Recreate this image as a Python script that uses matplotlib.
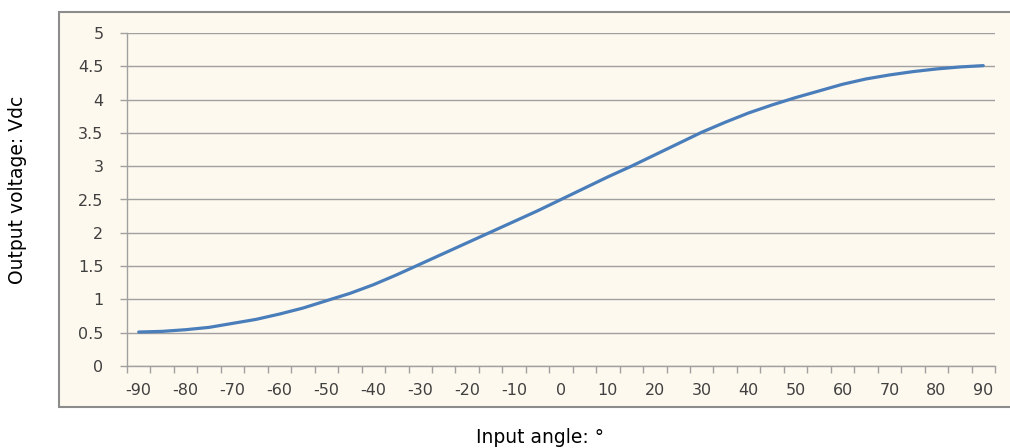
import numpy as np
import matplotlib
matplotlib.use("Agg")
import matplotlib.pyplot as plt
from matplotlib.patches import Rectangle

# input angle (degrees) and output voltage
angles = list(range(-90, 91, 5))
volts = [0.51, 0.52, 0.545, 0.58, 0.64, 0.70, 0.78, 0.87, 0.98, 1.09,
         1.22, 1.37, 1.53, 1.69, 1.85, 2.01, 2.17, 2.33, 2.50, 2.67,
         2.84, 3.00, 3.17, 3.34, 3.51, 3.66, 3.80, 3.92, 4.03, 4.13,
         4.23, 4.31, 4.37, 4.42, 4.46, 4.49, 4.51]
yticks = [0, 0.5, 1, 1.5, 2, 2.5, 3, 3.5, 4, 4.5, 5]

bg = '#fef9ee'
txt = '#404040'
grid = '#a0a0a0'

W, H = 1010, 448
fig = plt.figure(figsize=(W / 100, H / 100), dpi=100)
fig.patch.set_facecolor('white')

# chart area frame (runs off the right edge of the picture)
fig.patches.append(Rectangle((59 / W, 1 - 407 / H), (1030 - 59) / W, (407 - 12) / H,
                             transform=fig.transFigure, facecolor=bg,
                             edgecolor='#8c8c8c', linewidth=1.5, zorder=-5))

ax = fig.add_axes([127 / W, 1 - 366 / H, (995 - 127) / W, (366 - 33) / H])
ax.set_zorder(2)
ax.set_facecolor(bg)
ax.patch.set_alpha(0)

x = np.arange(len(angles))
ax.plot(x, volts, color='#4a7ebb', linewidth=2.3, solid_capstyle='round', zorder=3)

ax.set_xlim(-0.5, len(angles) - 0.5)
ax.set_ylim(0, 5)

# category axis: tick marks at boundaries, labels every 2nd category
ax.set_xticks(np.arange(-0.5, len(angles), 1))
ax.set_xticklabels([])
ax.set_xticks(x[::2], minor=True)
ax.set_xticklabels([str(a) for a in angles[::2]], minor=True)
ax.tick_params(axis='x', which='major', direction='out', length=5, color=grid, width=1)
ax.tick_params(axis='x', which='minor', length=0, pad=12, labelsize=11.5, labelcolor=txt)

ax.set_yticks(yticks)
ax.set_yticklabels([f"{v:g}" for v in yticks])
ax.tick_params(axis='y', direction='out', length=5, color=grid, width=1,
               labelsize=11.5, labelcolor=txt, pad=12)
ax.grid(axis='y', color=grid, linewidth=1)
ax.set_axisbelow(True)

for s in ['top', 'right']:
    ax.spines[s].set_visible(False)
for s in ['left', 'bottom']:
    ax.spines[s].set_color(grid)
    ax.spines[s].set_linewidth(1)

fig.text(540 / W, 1 - 437 / H, "Input angle: °", ha='center', va='center',
         fontsize=13.5, color='black')
fig.text(18 / W, 1 - 190 / H, "Output voltage: Vdc", ha='center', va='center',
         rotation=90, fontsize=13.5, color='black')

fig.savefig('out.png', dpi=100, facecolor=fig.get_facecolor())
